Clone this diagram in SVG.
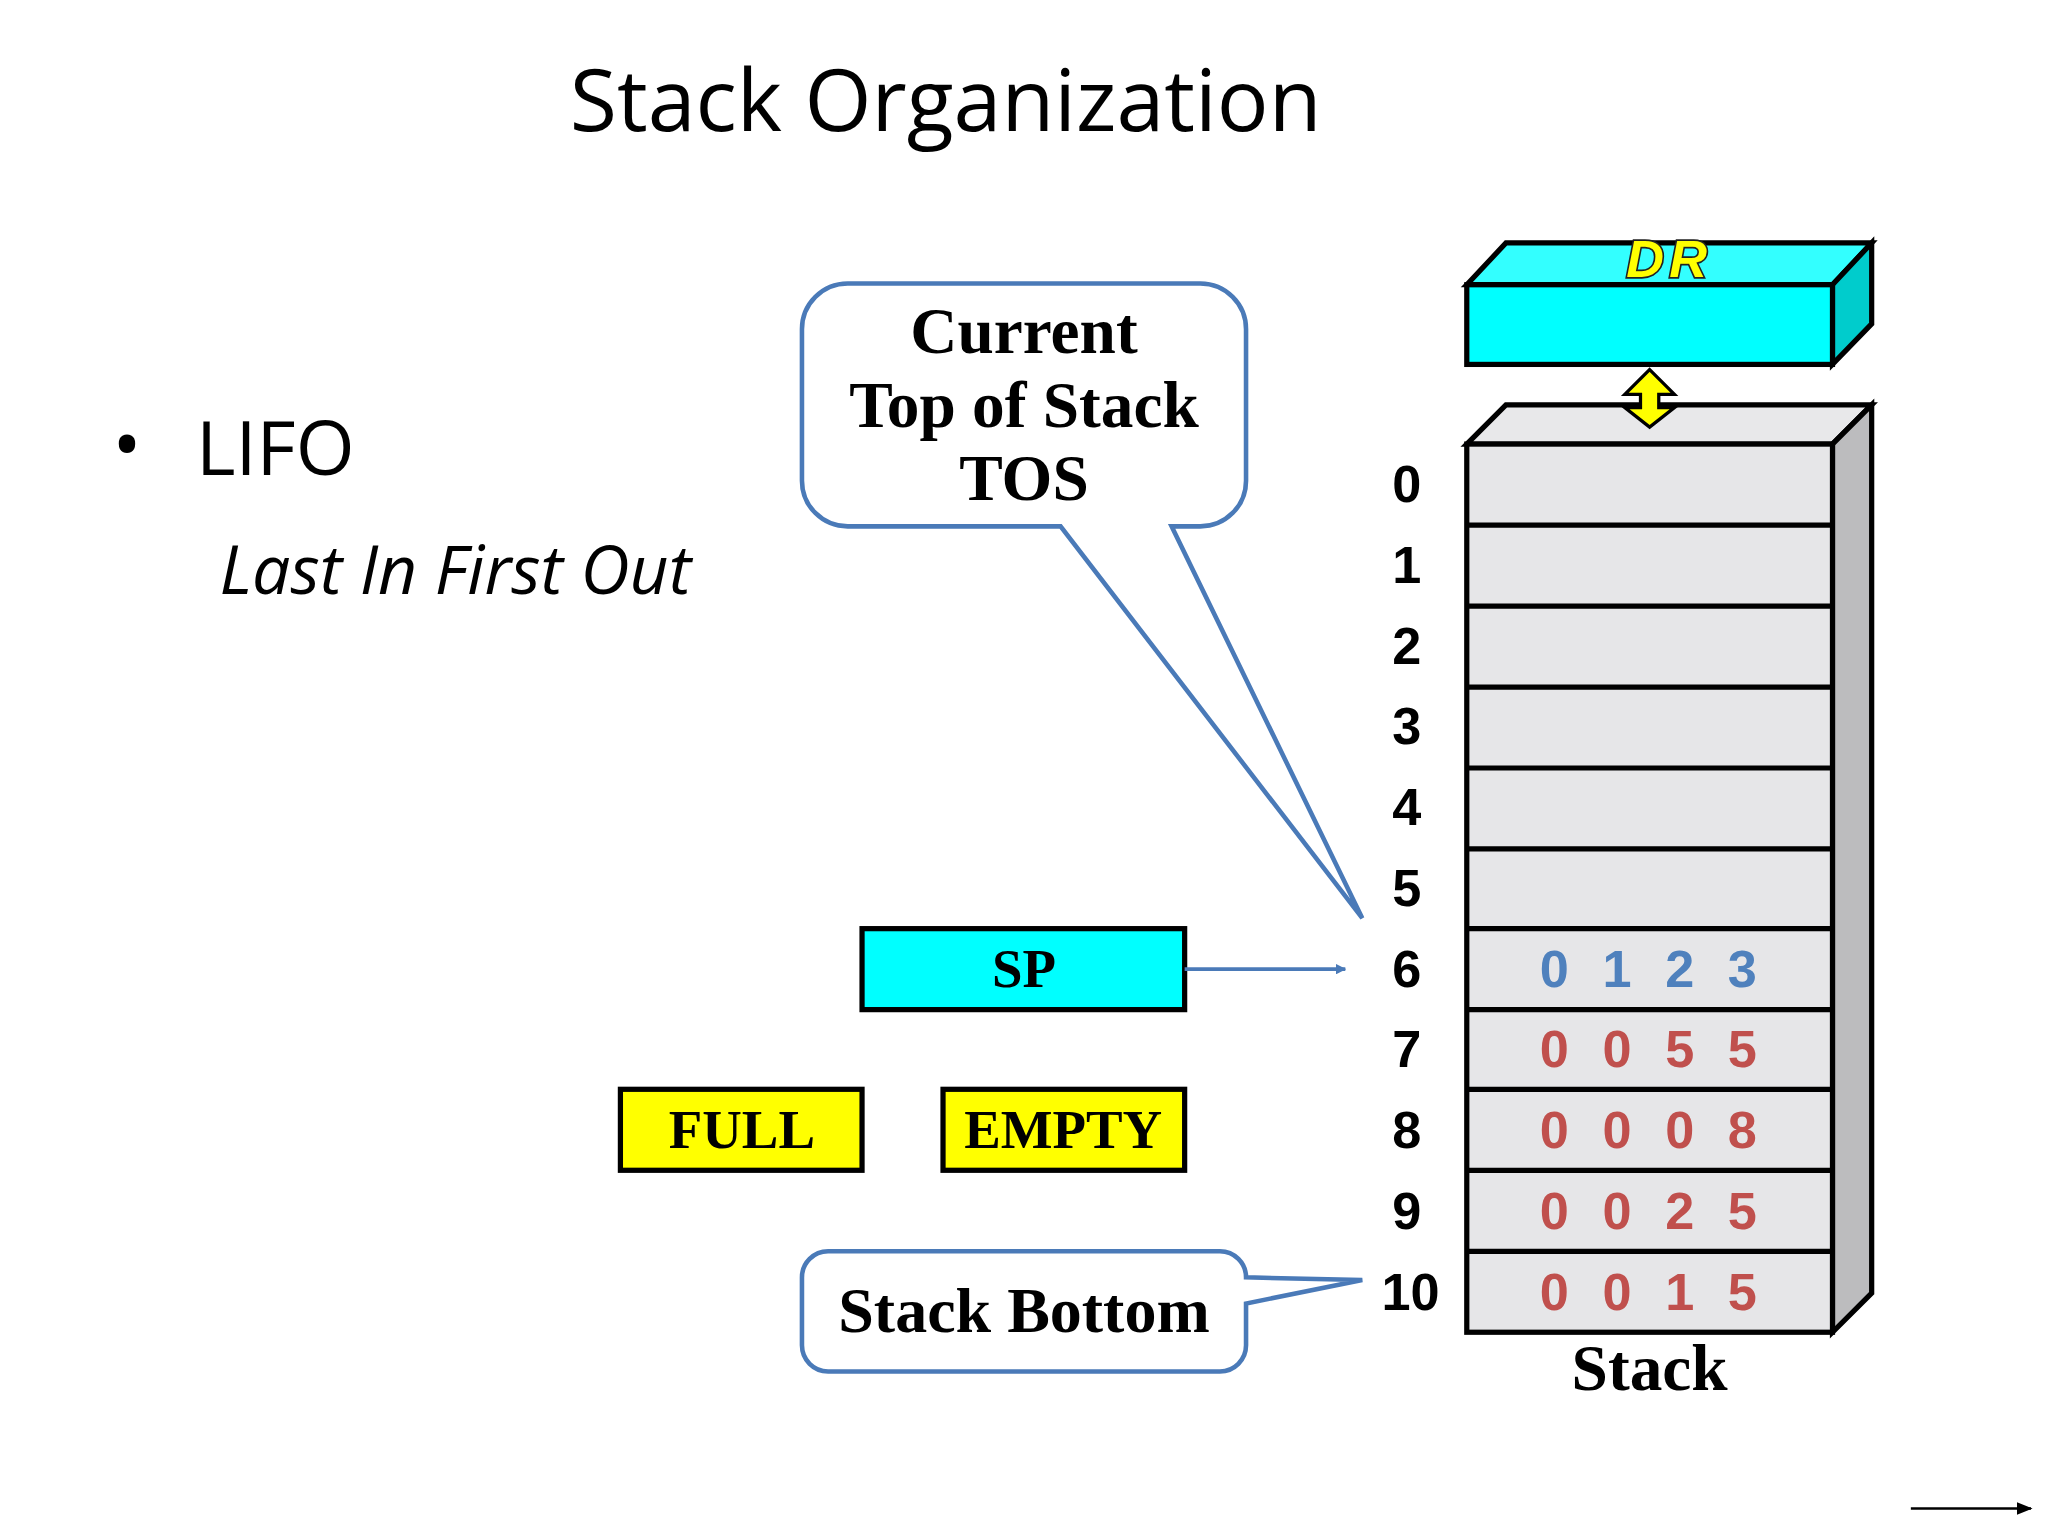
<svg xmlns="http://www.w3.org/2000/svg" width="2048" height="1536" viewBox="0 0 2048 1536">
<defs>
<style>
.ser{font-family:"Liberation Serif","Times New Roman",serif;font-weight:bold}
.san{font-family:"Liberation Sans",Arial,sans-serif;font-weight:bold}
.idx{font-family:"Liberation Sans",Arial,sans-serif;font-weight:bold;font-size:40px;text-anchor:middle}
.blu{fill:#4f81bd}.red{fill:#c0504d}
.call{fill:#fff;stroke:#4a7ab8;stroke-width:3.5}
.box{stroke:#000;stroke-width:4}
</style>
<marker id="ah" viewBox="0 0 10 10" refX="9" refY="5" markerWidth="8" markerHeight="8" markerUnits="userSpaceOnUse" orient="auto"><path d="M0,0L10,5L0,10z" fill="#4a7ab8"/></marker>
<marker id="ak" viewBox="0 0 10 10" refX="9" refY="5" markerWidth="6" markerHeight="6" orient="auto"><path d="M0,1L10,5L0,9z" fill="#000"/></marker>
</defs>
<rect width="2048" height="1536" fill="#fff"/>
<g transform="scale(1.30612)">
<g id="title"><text x="724" y="100" font-family="Open Sans,Liberation Sans,sans-serif" font-size="66" text-anchor="middle">Stack Organization</text></g>
<g id="lifo" font-family="Open Sans,Liberation Sans,sans-serif">
<text x="86" y="362" font-size="60">•</text>
<text x="150" y="364" font-size="58">LIFO</text>
<text x="168" y="455" font-size="52" font-style="italic">Last In First Out</text>
</g>
<g id="tos">
<path class="call" d="M649,217H919A35,35 0 0 1 954,252V368A35,35 0 0 1 919,403H897L1043,703L812,403H649A35,35 0 0 1 614,368V252A35,35 0 0 1 649,217Z"/>
<text class="ser" font-size="50" text-anchor="middle"><tspan x="784" y="270">Current</tspan><tspan x="784" y="327">Top of Stack</tspan><tspan x="784" y="383">TOS</tspan></text>
</g>
<g id="dr">
<path class="box" fill="#33ffff" d="M1123,218L1153,186H1433L1403,218Z"/>
<path class="box" fill="#00cccc" d="M1403,218L1433,186V248L1403,279Z"/>
<rect class="box" fill="#00ffff" x="1123" y="218" width="280" height="61"/>
<text x="1278" y="212" class="san" font-size="40" font-style="italic" text-anchor="middle" letter-spacing="4" fill="#ffff00" stroke="#222" stroke-width="2.5" paint-order="stroke">DR</text>
</g>
<g id="stack">
<path class="box" fill="#e8e8ea" d="M1123,340L1153,310H1433L1403,340Z"/>
<path class="box" fill="#bcbcbe" d="M1403,340L1433,310V990L1403,1020Z"/>
<rect class="box" fill="#e6e6e8" x="1123" y="340" width="280" height="680"/>
<g stroke="#000" stroke-width="4">
<line x1="1123" y1="402" x2="1403" y2="402"/><line x1="1123" y1="464" x2="1403" y2="464"/><line x1="1123" y1="526" x2="1403" y2="526"/><line x1="1123" y1="588" x2="1403" y2="588"/><line x1="1123" y1="650" x2="1403" y2="650"/><line x1="1123" y1="711" x2="1403" y2="711"/><line x1="1123" y1="773" x2="1403" y2="773"/><line x1="1123" y1="834" x2="1403" y2="834"/><line x1="1123" y1="896" x2="1403" y2="896"/><line x1="1123" y1="958" x2="1403" y2="958"/>
</g>
<path d="M1263,283L1282,302H1270V312L1282,312L1263,327L1244,312H1256V302H1244Z" fill="#ffff00" stroke="#000" stroke-width="2.5"/>
<text x="1263" y="1064" class="ser" font-size="50" text-anchor="middle">Stack</text>
</g>
<g id="indices" class="idx">
<text x="1077" y="384">0</text><text x="1077" y="446">1</text><text x="1077" y="508">2</text><text x="1077" y="570">3</text><text x="1077" y="632">4</text><text x="1077" y="694">5</text><text x="1077" y="756">6</text><text x="1077" y="817">7</text><text x="1077" y="879">8</text><text x="1077" y="941">9</text><text x="1080" y="1003">10</text>
</g>
<g id="values" class="idx">
<g class="blu"><text x="1190" y="756">0</text><text x="1238" y="756">1</text><text x="1286" y="756">2</text><text x="1334" y="756">3</text></g>
<g class="red"><text x="1190" y="817">0</text><text x="1238" y="817">0</text><text x="1286" y="817">5</text><text x="1334" y="817">5</text>
<text x="1190" y="879">0</text><text x="1238" y="879">0</text><text x="1286" y="879">0</text><text x="1334" y="879">8</text>
<text x="1190" y="941">0</text><text x="1238" y="941">0</text><text x="1286" y="941">2</text><text x="1334" y="941">5</text>
<text x="1190" y="1003">0</text><text x="1238" y="1003">0</text><text x="1286" y="1003">1</text><text x="1334" y="1003">5</text></g>
</g>
<g id="sp"><rect class="box" fill="#00ffff" x="660" y="711" width="247" height="62"/><text x="784" y="756" class="ser" font-size="42" text-anchor="middle">SP</text></g>
<g id="full"><rect class="box" fill="#ffff00" x="475" y="834" width="185" height="62"/><text x="568" y="879" class="ser" font-size="42" text-anchor="middle">FULL</text></g>
<g id="empty"><rect class="box" fill="#ffff00" x="722" y="834" width="185" height="62"/><text x="814" y="879" class="ser" font-size="42" text-anchor="middle">EMPTY</text></g>
<g id="bottom">
<path class="call" d="M634,958H934A20,20 0 0 1 954,978L1043,980L954,998V1030A20,20 0 0 1 934,1050H634A20,20 0 0 1 614,1030V978A20,20 0 0 1 634,958Z"/>
<text x="784" y="1020" class="ser" font-size="49" text-anchor="middle">Stack Bottom</text>
</g>
<g id="connectors">
<line x1="907" y1="742" x2="1030" y2="742" stroke="#4a7ab8" stroke-width="3" marker-end="url(#ah)"/>
<line x1="1463" y1="1155" x2="1555" y2="1155" stroke="#000" stroke-width="2" marker-end="url(#ak)"/>
</g>
</g>
</svg>
